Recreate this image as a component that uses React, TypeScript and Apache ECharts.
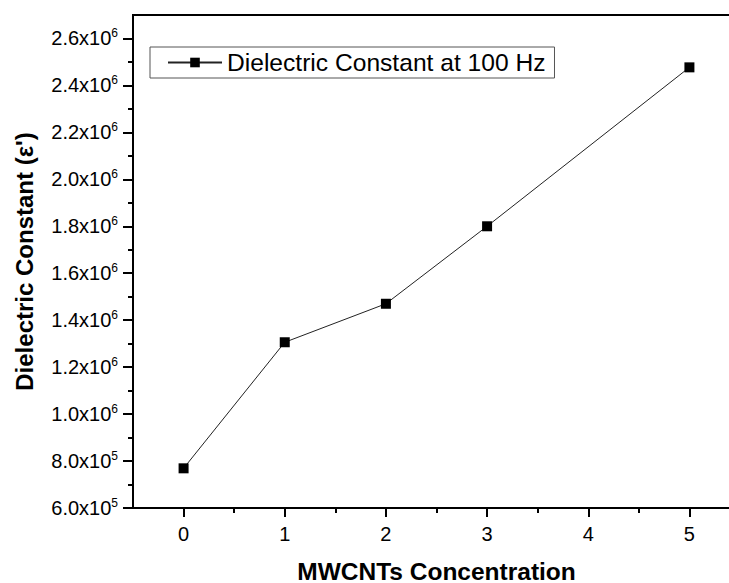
import React, { useEffect, useRef } from "react";
import * as echarts from "echarts";

const concentrations = [0, 1, 2, 3, 5];
const dielectric = [769000, 1306000, 1470000, 1800000, 2477000];
const xMajorTicks = [0, 1, 2, 3, 4, 5];
const xMinorTicks = [0.5, 1.5, 2.5, 3.5, 4.5];
const yMajorTicks = [600000, 800000, 1000000, 1200000, 1400000, 1600000, 1800000, 2000000, 2200000, 2400000, 2600000];
const yMinorTicks = [700000, 900000, 1100000, 1300000, 1500000, 1700000, 1900000, 2100000, 2300000, 2500000];
const seriesName = "Dielectric Constant at 100 Hz";
const xTitle = "MWCNTs Concentration";
const yTitle = "Dielectric Constant (ε')";

const FONT = "'Liberation Sans', Arial, sans-serif";

function sci(v: number): string {
  const e = Math.floor(Math.log10(v) + 1e-9);
  const m = v / Math.pow(10, e);
  return `{a|${m.toFixed(1)}x10}{s|${e}}`;
}

export default function App() {
  const ref = useRef<HTMLDivElement>(null);
  useEffect(() => {
    document.body.style.margin = "0";
    if (!ref.current) return;
    const chart = echarts.init(ref.current, null, { renderer: "svg" });
    const xMin = -0.5, xMax = 5.5, yMin = 600000, yMax = 2700000;
    const gridPos = { left: 133, top: 15, right: -11, bottom: 75, outerBoundsMode: "none" };
    chart.setOption({
      animation: false,
      backgroundColor: "#fff",
      grid: [
        { ...gridPos },
        { ...gridPos, show: true, borderColor: "#000", borderWidth: 2, backgroundColor: "transparent" },
      ],
      legend: {
        left: 150,
        top: 47,
        padding: [3, 9, 3, 17],
        borderColor: "#555",
        borderWidth: 1,
        itemWidth: 54,
        itemHeight: 12,
        itemGap: 0,
        textStyle: { fontSize: 24.6, fontFamily: FONT, color: "#000" },
        data: [seriesName],
      },
      xAxis: [
        {
          type: "value",
          gridIndex: 0,
          min: xMin,
          max: xMax,
          position: "bottom",
          name: xTitle,
          nameLocation: "middle",
          nameGap: 51,
          nameTextStyle: { fontSize: 24.5, fontWeight: "bold", fontFamily: FONT, color: "#000" },
          axisLine: { show: true, onZero: false, lineStyle: { color: "#000", width: 2 } },
          axisTick: { show: true, customValues: xMajorTicks, length: 9, lineStyle: { color: "#000", width: 2 } },
          axisLabel: { customValues: xMajorTicks, margin: 16, fontSize: 20, fontFamily: FONT, color: "#000", formatter: (v: number) => String(v) },
          splitLine: { show: false },
        },
        {
          type: "value",
          gridIndex: 1,
          min: xMin,
          max: xMax,
          position: "bottom",
          axisLine: { show: false, onZero: false },
          axisTick: { show: true, customValues: xMinorTicks, length: 5, lineStyle: { color: "#000", width: 2 } },
          axisLabel: { show: false },
          splitLine: { show: false },
        },
      ],
      yAxis: [
        {
          type: "value",
          gridIndex: 0,
          min: yMin,
          max: yMax,
          position: "left",
          name: yTitle,
          nameLocation: "middle",
          nameGap: 97,
          nameTextStyle: { fontSize: 24, fontWeight: "bold", fontFamily: FONT, color: "#000" },
          axisLine: { show: true, onZero: false, lineStyle: { color: "#000", width: 2 } },
          axisTick: { show: true, customValues: yMajorTicks, length: 10, lineStyle: { color: "#000", width: 2 } },
          axisLabel: {
            customValues: yMajorTicks,
            margin: 15,
            formatter: (v: number) => sci(v),
            rich: {
              a: { fontSize: 20, fontFamily: FONT, color: "#000", lineHeight: 22 },
              s: { fontSize: 12, fontFamily: FONT, color: "#000", verticalAlign: "top" },
            },
          },
          splitLine: { show: false },
        },
        {
          type: "value",
          gridIndex: 1,
          min: yMin,
          max: yMax,
          position: "left",
          axisLine: { show: false, onZero: false },
          axisTick: { show: true, customValues: yMinorTicks, length: 5, lineStyle: { color: "#000", width: 2 } },
          axisLabel: { show: false },
          splitLine: { show: false },
        },
      ],
      series: [
        {
          name: seriesName,
          type: "line",
          xAxisIndex: 0,
          yAxisIndex: 0,
          data: concentrations.map((c, i) => [c, dielectric[i]]),
          symbol: "rect",
          symbolSize: 10,
          itemStyle: { color: "#000" },
          lineStyle: { color: "#222", width: 1 },
        },
      ],
    });
    return () => chart.dispose();
  }, []);
  return <div ref={ref} style={{ width: 729, height: 583 }} />;
}
